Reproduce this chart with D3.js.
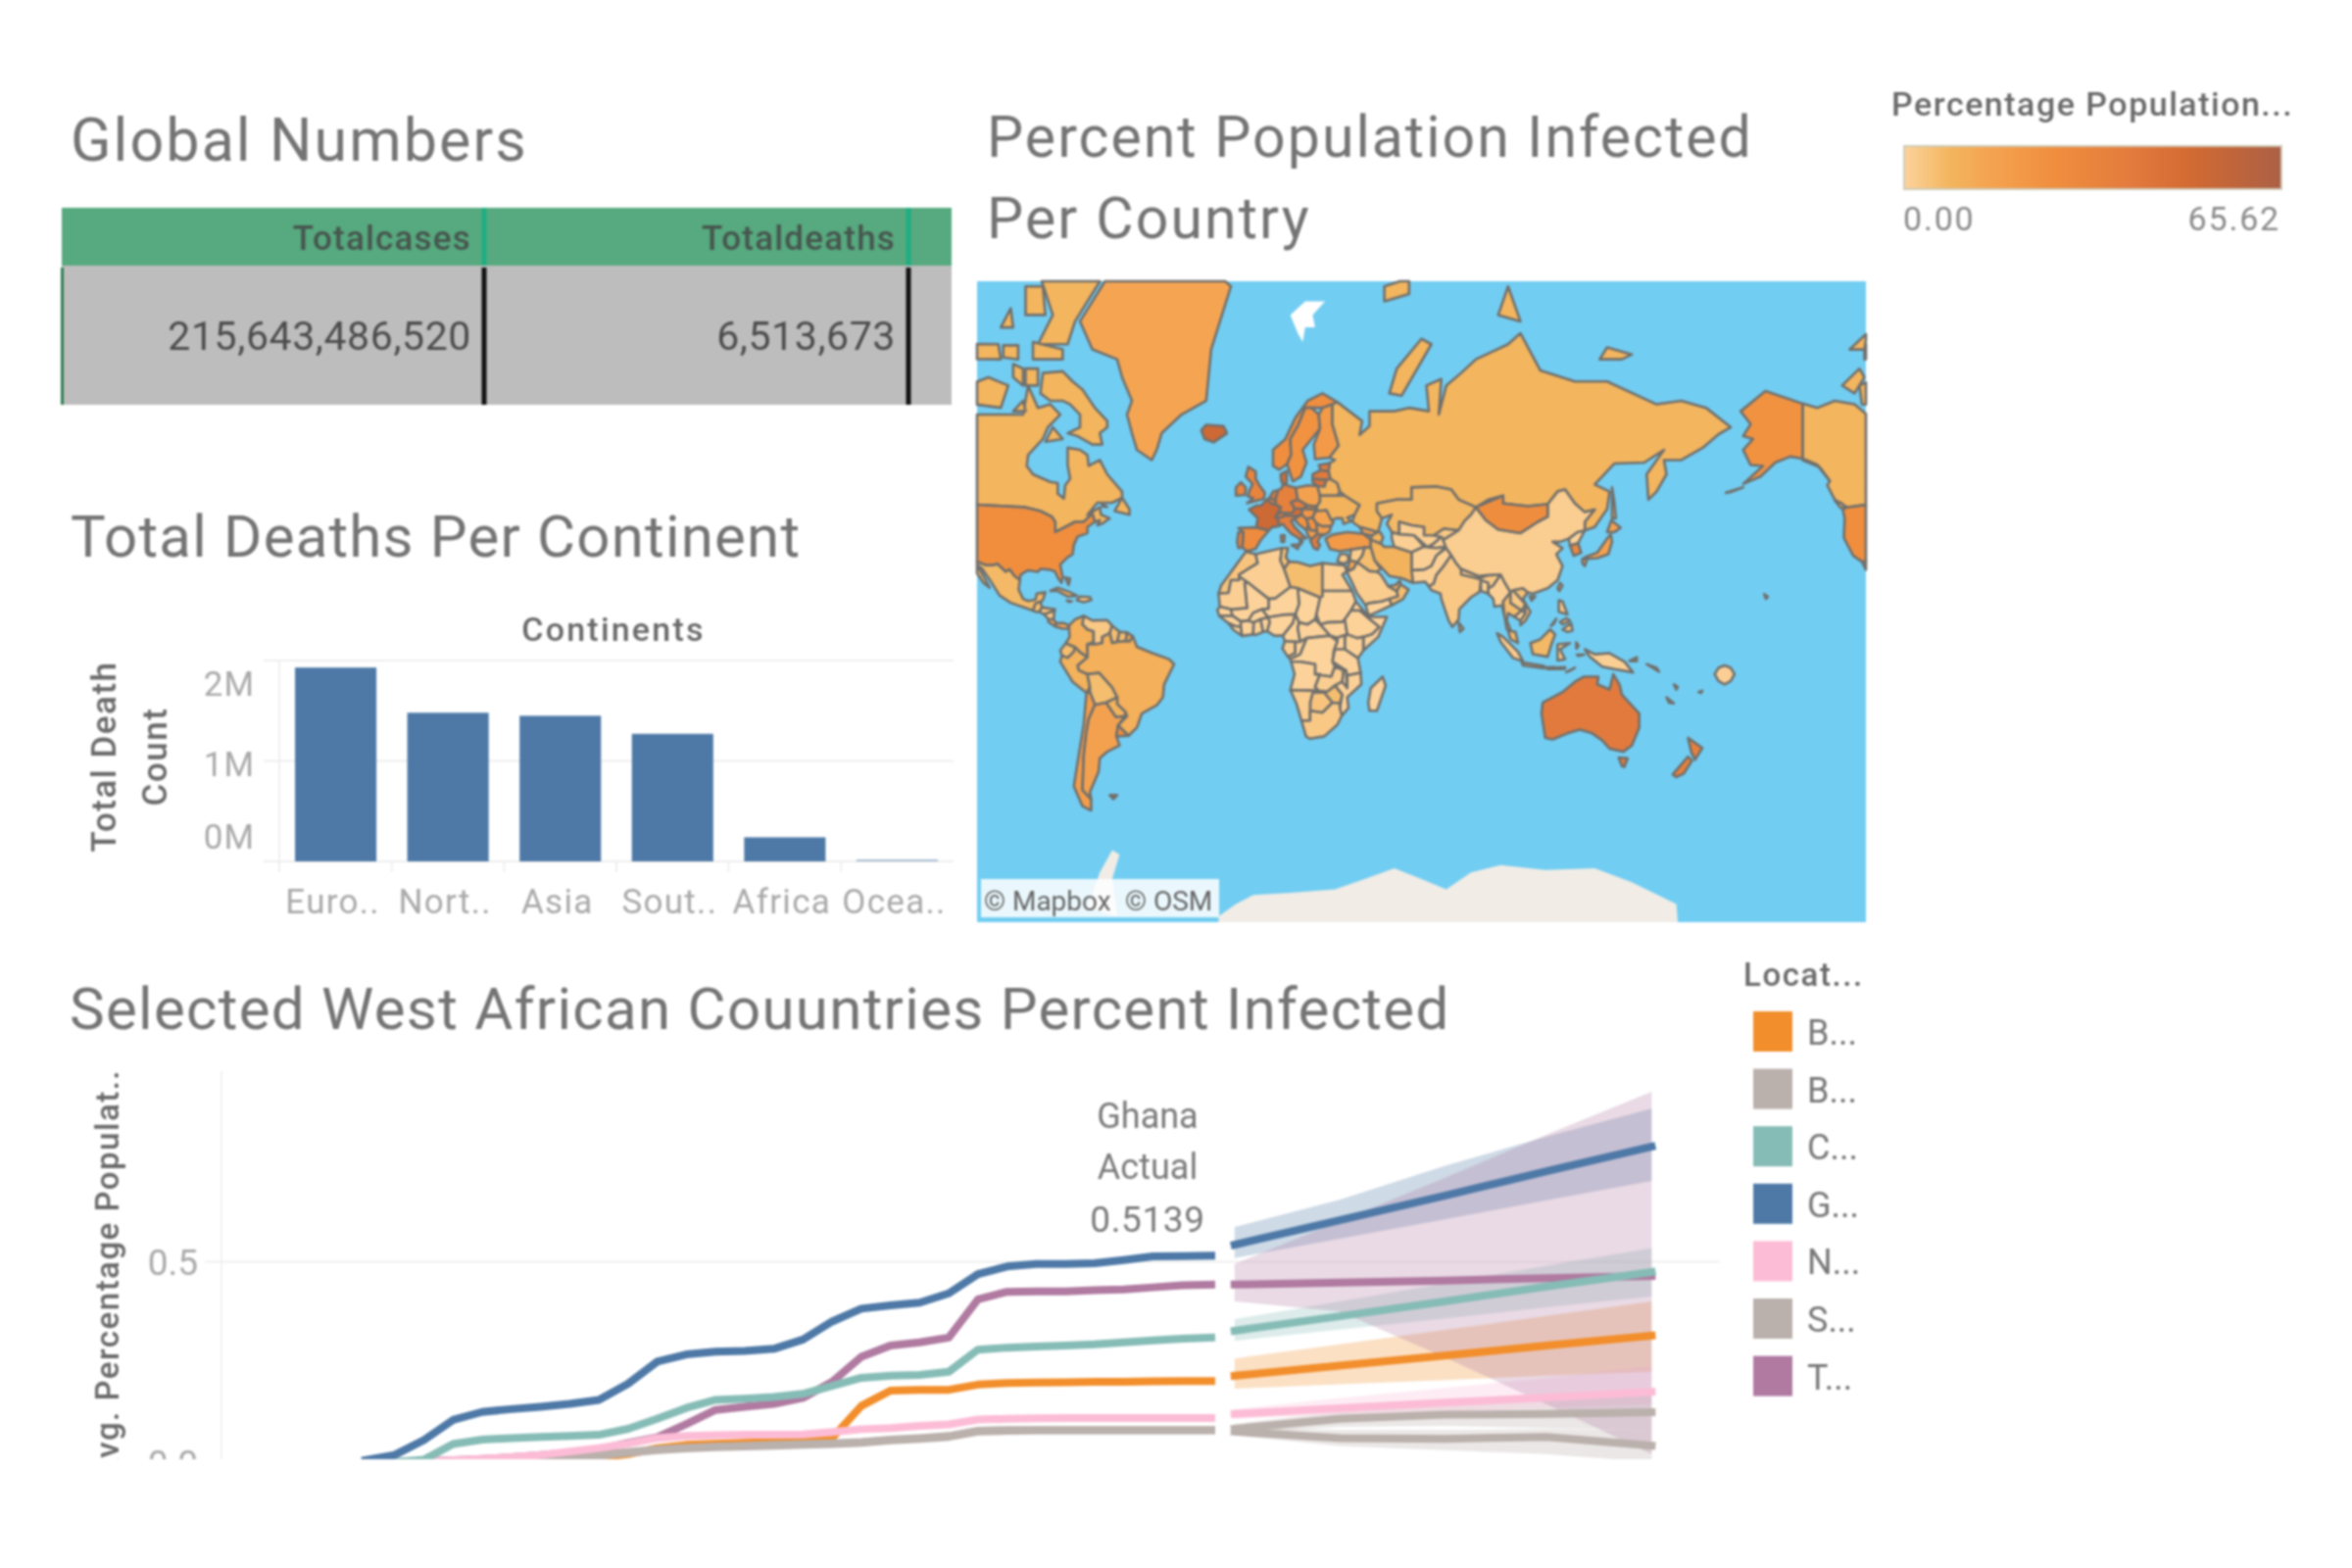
<!DOCTYPE html>
<html><head><meta charset="utf-8">
<script src="https://cdn.jsdelivr.net/npm/d3@7"></script>
<style>
html,body{margin:0;padding:0;background:#fff}
svg{display:block;filter:blur(1.2px)}
text{font-family:Roboto,sans-serif}
</style></head><body>
<svg id="c" width="2400" height="1600"></svg>
<script>
// ---------- Global numbers ----------
const tableHeaders = ["Totalcases","Totaldeaths"];
const tableValues = ["215,643,486,520","6,513,673"];

// ---------- Bars ----------
const continents = ["Euro..","Nort..","Asia","Sout..","Africa","Ocea.."];
const deathsMillions = [1.93,1.48,1.45,1.27,0.24,0.02];
const barTicks = [0,1,2];

// ---------- Lines ----------
const locationLabels = ["B...","B...","C...","G...","N...","S...","T..."];
const locationColors = ["#f28e2b","#bab0ac","#86bcb6","#4e79a7","#fcbcd6","#bab0ac","#b07aa1"];
const actualMonths = d3.range(30);
const forecastMonths = [29.8,33.4,37,40.5,44.1];
const actualBenin = [0,0,0,.002,.003,.004,.005,.007,.012,.02,.035,.043,.046,.048,.05,.052,.06,.14,.178,.18,.18,.193,.197,.198,.199,.2,.2,.201,.202,.202];
const actualBurkina = [0,0,.001,.002,.003,.004,.007,.011,.016,.023,.03,.034,.037,.039,.041,.043,.045,.048,.054,.058,.063,.076,.078,.079,.079,.079,.079,.079,.079,.079];
const actualCote = [0,0,.006,.045,.056,.06,.063,.065,.068,.083,.108,.135,.155,.158,.162,.17,.19,.21,.215,.217,.225,.28,.285,.288,.29,.293,.298,.303,.307,.31];
const actualGhana = [.005,.018,.055,.105,.125,.132,.138,.145,.155,.195,.25,.268,.275,.277,.282,.305,.35,.382,.39,.397,.42,.468,.487,.493,.493,.495,.503,.512,.513,.5139];
const actualNiger = [0,0,.002,.005,.008,.012,.018,.026,.035,.046,.06,.065,.067,.068,.068,.069,.075,.082,.085,.09,.094,.106,.108,.109,.11,.11,.11,.11,.11,.11];
const actualSenegal = [0,0,.001,.002,.003,.005,.008,.012,.018,.025,.032,.036,.039,.041,.043,.045,.047,.05,.056,.06,.065,.078,.08,.08,.08,.08,.08,.08,.08,.08];
const actualTogo = [0,0,.003,.005,.008,.012,.018,.024,.032,.048,.062,.095,.13,.138,.145,.16,.2,.262,.29,.298,.31,.405,.424,.425,.425,.428,.43,.435,.44,.442];
const forecastBenin = [.215,.24,.265,.29,.315];
const forecastBurkina = [.083,.108,.118,.12,.124];
const forecastCote = [.327,.363,.4,.437,.473];
const forecastGhana = [.541,.602,.663,.724,.785];
const forecastNiger = [.12,.134,.148,.161,.175];
const forecastSenegal = [.076,.06,.058,.063,.041];
const forecastTogo = [.442,.447,.452,.458,.463];
const upperBenin = [.258,.293,.329,.364,.4], lowerBenin = [.183,.194,.204,.215,.225];
const upperBurkina = [.095,.125,.14,.155,.17], lowerBurkina = [.07,.088,.09,.085,.08];
const upperCote = [.356,.4,.445,.489,.533], lowerCote = [.302,.33,.357,.385,.412];
const upperGhana = [.585,.653,.737,.81,.88], lowerGhana = [.508,.556,.604,.652,.7];
const upperNiger = [.132,.16,.185,.21,.24], lowerNiger = [.108,.118,.125,.135,.145];
const upperSenegal = [.085,.08,.08,.082,.08], lowerSenegal = [.066,.04,.03,.02,0];
const upperTogo = [.493,.6,.707,.815,.922], lowerTogo = [.4,.375,.261,.144,.02];
const actualSeries = [actualBenin,actualBurkina,actualCote,actualGhana,actualNiger,actualSenegal,actualTogo];
const forecastSeries = [forecastBenin,forecastBurkina,forecastCote,forecastGhana,forecastNiger,forecastSenegal,forecastTogo];
const upperSeries = [upperBenin,upperBurkina,upperCote,upperGhana,upperNiger,upperSenegal,upperTogo];
const lowerSeries = [lowerBenin,lowerBurkina,lowerCote,lowerGhana,lowerNiger,lowerSenegal,lowerTogo];

// ---------- Map: [percent infected, outline in lon/lat] ----------
const colorStops = [0,8,14,26,40,50,65.62];
const colorRange = ["#fcd39c","#f3b55e","#f5a552","#f08e3e","#e27a3d","#d26a33","#ab6045"];
const antarctica = [[-17,-73],[-10,-71.5],[-3,-70.3],[12,-70],[30,-69.5],[42,-68],[54,-66.3],[65,-68],[75,-69.5],[85,-67],[97,-65.8],[115,-66.6],[135,-66.3],[150,-68.5],[168,-71.5],[170,-78],[170,-85],[100,-85],[40,-85],[-17,-85]];
const peninsula = [[-70,-72],[-65,-67],[-60,-63.2],[-57,-64],[-60,-68],[-58,-73]];
const svalbard = [[12,79],[15,77.5],[17,76.7],[18,78],[22,78],[21,79],[26,80],[18,80]];
const countries = [
[8,[[-141,69.6],[-135,69],[-128,70],[-120,69.5],[-115,68],[-108,68],[-100,68],[-96,68],[-94,72],[-90,69],[-85,69.5],[-81,68],[-86,66],[-88,64],[-94,61],[-94.5,58.8],[-92,57],[-85,55.3],[-82,55],[-82,52.5],[-79.5,51.3],[-79,54.5],[-77,56],[-78,59],[-78,62.4],[-73,62],[-70,61],[-69.5,58.8],[-65,60],[-62,57],[-56,53],[-56,51.5],[-60,50.2],[-66,50.2],[-70,47],[-65,49],[-64.5,47],[-61,46],[-64,44.5],[-66,44],[-65,45.5],[-67,45],[-68,47.3],[-70,46],[-71.5,45],[-75,45],[-79,43.5],[-83,42],[-83,45],[-84.5,46.5],[-89,48],[-95,49],[-123,49],[-128,51],[-131,54.5],[-130,55.5],[-135,59],[-141,60.3]]],
[8,[[-62,66],[-65,65],[-64,63],[-68,63],[-72,64],[-74,64.5],[-78,65],[-73,66],[-73,68],[-77,69.5],[-80,70],[-85,70],[-89,71],[-88,73.5],[-80,73.7],[-76,72.5],[-72,71.5],[-67,69],[-62,67]]],
[8,[[-117,69.5],[-105,69],[-102,72],[-110,73],[-118,72]]],
[8,[[-90,76.5],[-78,76.5],[-75,78.5],[-62,82],[-70,83],[-90,82],[-84,79]]],
[8,[[-125,72],[-118,74],[-116,73],[-120,71]]],
[8,[[-92,75],[-80,75],[-80,76],[-92,76.7]]],
[8,[[-116,75],[-105,75],[-106,76.5],[-116,76.5]]],
[8,[[-100,73],[-96,72],[-96,74],[-100,74.5]]],
[8,[[-95,72],[-90,72],[-90,74],[-95,74]]],
[8,[[-95,79],[-87,79],[-88,81],[-95,81]]],
[8,[[-100,68.5],[-95,68.5],[-96,70]]],
[8,[[-122,76],[-116,76],[-115,77.5]]],
[8,[[-105,78],[-100,78],[-101,79.5]]],
[8,[[-104,75.2],[-98,75],[-98,76.4],[-104,76.4]]],
[8,[[-87,63.5],[-80,64],[-84,66]]],
[8,[[-59,48],[-53,47],[-53,48.5],[-56,51.5]]],
[8,[[-128,50.8],[-125,50],[-123.5,48.5],[-125.5,48.8]]],
[8,[[-64,49.9],[-62,49.1],[-64,49.2]]],
[26,[[-124.7,48.4],[-123,49],[-95,49],[-89,48],[-84.5,46.5],[-83,45],[-83,42],[-79,43.5],[-75,45],[-71.5,45],[-70,46],[-68,47.3],[-67,45],[-70,43.5],[-70,41.7],[-74,40.6],[-75.5,38],[-76,35],[-78,34],[-81,31.5],[-80,27],[-80.5,25],[-82,27],[-83,29],[-85,29.7],[-89,30],[-90,29],[-94,29.5],[-97,28],[-97.3,26],[-99.5,27.5],[-101.5,29.8],[-103,29],[-106.5,31.8],[-108,31.3],[-111,31.3],[-114.8,32.5],[-117,32.5],[-120.5,34.5],[-122.5,37.5],[-124.3,40.3],[-124,46]]],
[24,[[-141,69.6],[-156,71.3],[-166,68.5],[-162,66.5],[-165,64.5],[-161,64],[-165,62],[-162,59],[-157,58.8],[-165,54.8],[-158,56.5],[-152,59.5],[-146,60.7],[-141,60.3],[-135,59],[-130,55.5],[-134,58.5],[-141,60]]],
[26,[[-156.5,20.8],[-155,19.8],[-155.8,19]]],
[26,[[-172,52.7],[-165,54],[-170,52.9]]],
[7,[[-117,32.5],[-114.8,32.5],[-111,31.3],[-108,31.3],[-106.5,31.8],[-103,29],[-101.5,29.8],[-99.5,27.5],[-97.3,26],[-97.8,22.5],[-96,19],[-94,18.2],[-91,18.7],[-90.5,21],[-87,21.5],[-88,18.5],[-89,17.9],[-91,17.2],[-92,14.5],[-96,15.8],[-101,17.5],[-105.5,20.3],[-109,25.5],[-112.5,30],[-114.7,31.5],[-112,27.5],[-109.5,23.2],[-112,25],[-115,29]]],
[6,[[-92,14.5],[-91,17.2],[-89,17.9],[-88.3,15.7],[-89.5,14],[-90.5,13.9]]],
[4,[[-88.3,15.7],[-83.2,15],[-84.5,14],[-87.5,13],[-89.5,14]]],
[3,[[-87.5,13],[-84.5,14],[-83.2,15],[-83.7,11],[-85.7,11]]],
[14,[[-85.7,11],[-83.7,11],[-82.6,9.5],[-83,8.2],[-85.8,10]]],
[14,[[-83,8.2],[-82.6,9.5],[-79.5,9.5],[-77.4,8.6],[-78,7.3],[-80,7.3]]],
[9,[[-85,22],[-82,23.2],[-77,21.5],[-74.2,20.2],[-78,19.9],[-82,22]]],
[4,[[-74.3,18.5],[-73,19.9],[-69,19.7],[-68.4,18.6],[-71.5,17.7]]],
[4,[[-78.3,18.4],[-76.3,18.1],[-77.5,17.8]]],
[10,[[-79,27],[-77,26.5],[-77.6,24.2]]],
[10,[[-77.4,8.6],[-75,11],[-71.5,12.4],[-72,9],[-70,7],[-67.5,6.2],[-67.5,2],[-70,1],[-70,-4.2],[-73,-2.2],[-75,-0.2],[-78.8,1.4],[-77.2,4],[-77.4,7]]],
[3,[[-71.5,12.4],[-68,10.6],[-62,10.7],[-60,8.5],[-61,5.5],[-64,4],[-64,1.5],[-67,1],[-67.5,2],[-67.5,6.2],[-70,7],[-72,9]]],
[6,[[-60,8.5],[-57,6],[-58,2],[-60,1.5],[-61,5.5]]],
[6,[[-57,6],[-54,5.8],[-54.5,2.3],[-58,2]]],
[14,[[-54,5.8],[-51.6,4.2],[-52.9,2.2],[-54.5,2.3]]],
[10,[[-51.6,4.2],[-50,0],[-44,-2.5],[-37,-5],[-35,-7],[-39,-15],[-39.5,-20],[-42,-23],[-48,-26],[-50,-31],[-53.4,-33.8],[-57.6,-30.2],[-54,-27],[-54.6,-25.5],[-58,-22.5],[-58,-20],[-60,-16.3],[-65.3,-10.5],[-70,-11],[-73.5,-9.5],[-74,-7.5],[-70,-4.2],[-70,1],[-67,1],[-64,1.5],[-64,4],[-61,5.5],[-60,1.5],[-58,2],[-54.5,2.3],[-52.9,2.2]]],
[6,[[-78.8,1.4],[-75,-0.2],[-75.5,-2],[-78,-4.5],[-80.3,-3.5],[-81,-1.5]]],
[9,[[-80.3,-3.5],[-78,-4.5],[-75.5,-2],[-75,-0.2],[-73,-2.2],[-70,-4.2],[-74,-7.5],[-73.5,-9.5],[-70,-11],[-69,-16],[-70.4,-18.3],[-76,-14],[-81,-6]]],
[6,[[-70,-11],[-65.3,-10.5],[-60,-16.3],[-58,-20],[-62.5,-22],[-67,-22.8],[-69,-18],[-69,-16]]],
[9,[[-58,-20],[-58,-22.5],[-54.6,-25.5],[-54.8,-27],[-58.5,-27.3],[-62.5,-22]]],
[18,[[-70.4,-18.3],[-69,-18],[-67,-22.8],[-69.5,-28],[-70.5,-33],[-71.5,-40],[-72,-50],[-68.5,-52.3],[-68.5,-55],[-72,-54],[-75.5,-49],[-73.5,-40],[-71.5,-30]]],
[16,[[-67,-22.8],[-62.5,-22],[-58.5,-27.3],[-54.8,-27],[-57.6,-30.2],[-58.3,-34],[-57,-37],[-62,-39],[-65,-41],[-65.5,-45],[-69,-50.5],[-68.5,-52.3],[-72,-50],[-71.5,-40],[-70.5,-33],[-69.5,-28]]],
[26,[[-57.6,-30.2],[-53.4,-33.8],[-58.3,-34]]],
[30,[[-61,-51.3],[-58,-51.3],[-59.5,-52.3]]],
[14,[[-73,78.5],[-60,82],[-33,83.5],[-12,81],[-20,76],[-22,70],[-32,68],[-40,65],[-42,62],[-44,60],[-50,62],[-52,65],[-54,68],[-52,70],[-56,73],[-58,75],[-68,76]]],
[52,[[-24,65.5],[-22,66.4],[-15,66.2],[-13.6,65],[-19,63.4],[-22.7,64]]],
[33,[[-5.5,50.1],[1.3,51.2],[1.7,52.7],[-0.5,54.5],[-2,56],[-2,57.6],[-5,58.6],[-6,56.5],[-3.2,54.8],[-4.5,53.3],[-5.2,51.8],[-3,51.4]]],
[32,[[-10,52],[-6.2,52.2],[-6,54],[-8,55.2],[-10,54]]],
[52,[[-1.8,43.4],[3.2,42.4],[4.5,43.4],[7.5,43.8],[7,46],[6,46.3],[8.2,49],[6.2,49.7],[4.5,50],[2.5,51],[0.2,49.5],[-1.5,49.5],[-4.7,48.4],[-1.2,46]]],
[28,[[-9,43.2],[-1.8,43.4],[3.2,42.4],[0,39.5],[-2,36.8],[-5.5,36],[-7.4,37.2],[-7,42]]],
[36,[[-9,42],[-7,42],[-7.4,37.2],[-9,37],[-9.5,39]]],
[38,[[2.5,51],[4.5,50],[6.2,49.7],[6,51],[3.5,51.4]]],
[40,[[3.5,51.4],[6,51],[7,53.3],[5,53]]],
[36,[[6,51],[6.2,49.7],[8.2,49],[7.6,47.6],[9.5,47.5],[13,47.6],[13.8,48.7],[12.2,50.3],[15,51],[14.2,53.9],[9,54.8],[8.6,53.9],[7,53.3]]],
[42,[[6,46.3],[7,46],[10.4,46.8],[9.5,47.5],[7.6,47.6]]],
[48,[[9.5,47.5],[10.4,46.8],[13.7,46.5],[16.5,47],[17,48.6],[13.8,48.7],[13,47.6]]],
[38,[[7,46],[7.5,43.8],[8.9,44.4],[10.5,43],[12.3,41.6],[15.7,40],[16,38],[17,39.2],[16,40],[18.4,40.1],[16,41.8],[13.7,43.5],[12.3,45.3],[13.7,45.8],[13.7,46.5],[10.4,46.8]]],
[38,[[12.5,38],[15.5,38.2],[15,36.7]]],
[38,[[8.2,41],[9.7,41],[9.5,39],[8.4,39]]],
[48,[[8.1,57],[10.6,57.7],[10.5,55],[9,54.8],[8.3,55.5]]],
[26,[[5,58.8],[7.5,58],[10.7,59.2],[12.3,61],[12,64],[15,66.2],[18,69],[20.5,69],[25,69],[29,69.5],[31,69.8],[25,71],[19,70],[14,67.5],[10,64],[5,62]]],
[24,[[10.7,59.2],[13,55.4],[16.3,56.5],[18.5,59.5],[17,62],[21.5,64.5],[24,65.8],[23.5,68],[20.5,69],[18,69],[15,66.2],[12,64],[12.3,61]]],
[20,[[24,65.8],[21.5,63],[22,60.2],[27.8,60.5],[31.5,62.8],[29,66.5],[29,69.5],[25,69],[23.5,68]]],
[40,[[23.5,59],[28,59.4],[27.5,57.6],[24.3,57.9]]],
[40,[[21,57],[24.3,57.9],[27.5,57.6],[28.2,56],[26.6,55.7],[21,56]]],
[44,[[21,56],[26.6,55.7],[25.8,54.2],[23,54.3],[21,55.2]]],
[16,[[14.2,53.9],[19,54.5],[23,54.3],[24,52],[24,50.5],[22.7,49.2],[19,49.5],[15,51]]],
[9,[[23,54.3],[25.8,54.2],[26.6,55.7],[28.2,56],[31,55],[32,53],[31,52],[24,52]]],
[9,[[24,52],[31,52],[34,52],[40,49.6],[38,47],[35,46.2],[36.5,45.2],[33.5,44.4],[33,46],[30.5,46],[28.5,45.5],[26.6,48.2],[22.9,48],[22.7,49.2],[24,50.5]]],
[38,[[12.2,50.3],[13.8,48.7],[17,48.6],[18.8,49.5],[15,51]]],
[32,[[17,48.6],[22.3,48.4],[22.7,49.2],[19,49.5]]],
[22,[[16.5,47],[17,48.6],[22.3,48.4],[21,46.2],[18.5,45.8]]],
[15,[[21,46.2],[22.3,48],[26.6,48.2],[28.5,45.5],[29.5,45],[28.5,43.8],[25,43.7],[22.5,44.5]]],
[18,[[22.5,44.5],[25,43.7],[28.5,43.8],[27.8,42],[26,41.3],[22.8,41.3]]],
[24,[[18.5,45.8],[21,46.2],[22.5,44.5],[22.8,42.3],[20,42.6],[19.2,44]]],
[24,[[13.7,45.8],[16.5,47],[18.5,45.8],[19.2,44],[18.5,42.5],[15,44.5]]],
[18,[[18.5,42.5],[19.2,44],[20,42.6],[22.8,42.3],[22.8,41.3],[20.8,40],[19.4,40.5]]],
[38,[[20,39.5],[20.8,40],[22.8,41.3],[26,41.3],[24,40.5],[23,39],[24,38],[23,36.5],[21.5,37]]],
[20,[[26.2,40],[29,41.2],[35,42],[41.5,41.5],[44.5,39.7],[44.5,37.2],[42,37.2],[36.5,36.5],[32,36],[28,36.7]]],
[2,[[31,32.5],[32,35],[35,35],[35.6,33],[34,31.8]]],
[8,[[31,69.8],[41,67],[40,64.7],[44,66.2],[44,68.5],[54,68.5],[60,69],[68,68.5],[67,72],[73,72.8],[72,68],[75,72],[81,73.5],[87,75],[100,76.5],[105,77.5],[113,73.8],[127,72.5],[140,72.5],[160,69.5],[170,70],[180,69],[190,66],[185,64.8],[179,62.5],[170,60],[163,60],[164,57],[160,53],[156.7,51],[156,57],[163,62],[155,59.5],[143,59.3],[135,54.7],[141,53],[140,48.5],[135,43.5],[131,42.5],[131,45],[135,48.4],[131,47.7],[127,50],[123,53.5],[120,53],[116,49.8],[108,49.3],[98,50],[98,52],[92,51],[87,49],[80,51],[77,53.5],[71,54.2],[61,54],[61,51],[55,51],[47,50],[47,48],[49,46],[47.5,42],[40,43.5],[37,45],[38,47],[40,49.6],[34,52],[32,53],[31,55],[28.2,56],[27.5,57.6],[28,59.4],[30,60],[27.8,60.5],[31.5,62.8],[29,66.5],[29,69.5]]],
[8,[[142,54],[143,50],[143.5,46],[142,46],[142,50]]],
[8,[[52,71],[57,70.7],[69,76.5],[65,77],[55,74]]],
[8,[[96,79],[105,78.5],[100,81]]],
[8,[[50,80],[60,80.5],[60,81.5],[50,81]]],
[8,[[137,75],[146,75],[150,75.5],[140,76.2]]],
[7,[[47,50],[55,51],[61,51],[61,54],[71,54.2],[77,53.5],[80,51],[87,49],[85,47],[82.5,45.3],[80,42.5],[74,43],[70,41],[66,41],[66,43.5],[61,44],[56,45],[56,41.3],[53,42],[51,44.5],[53,47],[49,46],[47,48]]],
[1,[[56,45],[61,44],[66,43.5],[66,41],[70,41],[73,40.5],[70,38.5],[67.5,37.3],[62,41],[56,41.3]]],
[1,[[53,42],[56,41.3],[62,41],[66,37.5],[61,35.6],[54,37.4],[53,40]]],
[3,[[70,41],[74,43],[80,42.5],[74,39.7],[73,40.5]]],
[1,[[67.5,37.3],[70,38.5],[73,40.5],[74,39.7],[75,37.5],[71,37]]],
[1,[[61,35.6],[66,37.5],[67.5,37.3],[71,37],[75,37.5],[71,34.5],[69,31],[66,29.7],[61,29.5]]],
[1,[[61,29.5],[66,29.7],[69,31],[71,34.5],[75,37],[77,34.7],[74,31],[71,27.8],[70,24.8],[68,23.7],[66.5,25.4],[61.5,25]]],
[9,[[44.5,39.7],[48.5,38.5],[50,37.4],[54,37.4],[61,35.6],[61,29.5],[61.5,25],[57,26.7],[52,27.5],[49,30.3],[46,33],[44.5,37.2]]],
[14,[[41.5,41.5],[40,43.5],[47.5,42],[45,41]]],
[8,[[45,41],[47.5,42],[48.5,41.8],[49.5,40.3],[48.5,38.5],[44.5,39.7]]],
[6,[[42,37.2],[44.5,37.2],[46,33],[48.5,30],[47,29],[44,29.2],[39,32.3],[41,34.5]]],
[2,[[36.5,36.5],[42,37.2],[41,34.5],[39,32.3],[36,33]]],
[14,[[35,29.5],[36,33],[39,32.3],[37.5,30]]],
[2,[[34.8,29],[37.5,30],[39,32.3],[44,29.2],[47,29],[48.5,28],[50,26],[51.5,23.8],[55,22],[55.5,20],[52,19],[49,18],[43.5,17.3],[42.5,16.5],[39,21],[37,25]]],
[0.1,[[43.5,12.7],[42.5,16.5],[43.5,17.3],[49,18],[52,19],[53,16.6],[45,13]]],
[6,[[52,19],[55.5,20],[55,22],[56.5,24.5],[59.8,22.5],[57.5,18.9],[53,16.6]]],
[9,[[51.5,23.8],[54.5,24.2],[56.3,25.8],[56.5,24.5],[55,22]]],
[3,[[68,23.7],[70,24.8],[71,27.8],[74,31],[77,34.7],[79,32],[81,30],[88,26.5],[92,27.8],[97,28],[94,24],[92,23],[89,26],[88.5,21.7],[85,19.6],[80.3,15],[80,11],[77.5,8],[76,10.5],[73,19],[72.7,21],[69,22.3]]],
[3,[[81,30],[88,27.5],[88,26.5],[81,28]]],
[1,[[89,26],[92,25],[92,21],[89,22]]],
[3,[[80,9.7],[82,7.3],[80.5,6]]],
[1,[[92,21],[92,23],[94,24],[97,28],[98.7,25],[101,21.5],[98,18],[98.6,12],[97.5,16.5],[94.5,16],[94,19]]],
[6,[[98,18],[101,21.5],[101,17.5],[105.5,14.5],[102.5,12],[100,13.5],[99.5,10.5],[101,6.8],[99.5,7],[98.6,12]]],
[3,[[101,21.5],[102,22.3],[107,17],[105.5,14.5],[101,17.5]]],
[5,[[102,22.3],[106,23],[108,21.5],[106,19],[109,14],[107,10.5],[105,8.7],[105,10.5],[107,13.5],[107,17]]],
[1,[[102.5,12],[105.5,14.5],[107,13.5],[105,10.5]]],
[7,[[100,6.5],[103,6],[104,1.5],[101,3]]],
[2,[[95.5,5.5],[98,4],[104,-2],[106,-5.8],[102,-4.5],[97,2]]],
[2,[[105.5,-6.2],[114.5,-7.7],[114.5,-8.7],[106,-7.5]]],
[2,[[115,-8.3],[119,-8.2],[119,-9],[116,-9]]],
[2,[[119.5,-8.4],[123,-8.2],[123,-8.9],[120,-9]]],
[2,[[123.5,-10.2],[127,-8.4],[125,-9.6]]],
[2,[[127.5,1.8],[128.5,0.5],[127.6,-0.8]]],
[2,[[127.8,-3.2],[130.8,-3.2],[128.5,-3.7]]],
[7,[[109,1.5],[113,3],[117,7],[119,5],[117.5,1],[116,-4],[110,-3]]],
[2,[[120,1],[125,1.5],[121,-1],[123,-5],[120,-5.5]]],
[1,[[131,-1],[135,-3],[141,-2.6],[147,-6],[150.5,-10.3],[143,-9],[138,-8],[133,-4]]],
[1,[[149,-5.7],[152,-4.2],[152,-5.8]]],
[3,[[120.5,18.5],[122,18],[124,13],[120.5,14]]],
[3,[[122,7],[125.5,9.5],[126,6.5],[124,6]]],
[3,[[121,10],[123.5,11.5],[125,10.5],[122,9]]],
[3,[[117.3,8.4],[119.5,11.3],[118.5,9.3]]],
[3,[[121,25],[122,24],[120.7,22],[120,23]]],
[16,[[130.9,34],[136,35.5],[140,40],[141.5,41.3],[142,39],[140.5,35],[136,33.7],[132,33.5]]],
[16,[[140,42],[141.7,45.4],[145.5,43.3],[143,42]]],
[16,[[130,33.5],[131.8,33],[131,31],[130,32]]],
[0.1,[[124.5,40],[128,42],[131,42.5],[128.3,38.6],[125,37.8]]],
[30,[[125,37.8],[128.3,38.6],[129.5,35.5],[126.5,34.5]]],
[1.5,[[73.7,39.5],[74,39.7],[80,42.5],[82.5,45.3],[85,47],[87,49],[91,45.5],[96,42.8],[105,41.7],[112,45],[116,46.5],[116,49.8],[120,53],[123,53.5],[127,50],[131,47.7],[135,48.4],[131,45],[131,42.5],[128,42],[124.5,40],[121,39],[118,39],[122,37],[119.5,35],[122,31],[120,26],[116,23],[110,21],[108,21.5],[106,23],[102,22.3],[101,21.5],[98.7,25],[97,28],[92,27.8],[88,27.5],[81,30],[79,32],[77,34.7],[75,37]]],
[1.5,[[108.7,20],[111,20],[109.5,18.3]]],
[27,[[87,49],[98,52],[98,50],[108,49.3],[116,49.8],[116,46.5],[112,45],[105,41.7],[96,42.8],[91,45.5]]],
[4,[[-17,21],[-16,24],[-13,27.7],[-9.8,31.5],[-6,35.8],[-2,35],[-1.2,32],[-8.7,28],[-8.7,26],[-12,26],[-13,21.3]]],
[1,[[-2,35],[8.6,37],[8,33],[9.5,30],[12,23.5],[6,19.2],[3.2,19],[-5,25],[-8.7,27.3],[-8.7,28],[-1.2,32]]],
[5,[[8.6,37],[11,37],[10.2,34],[11.5,32.5],[9.5,30],[8,33]]],
[6,[[9.5,30],[11.5,32.5],[15,32.3],[20,31],[25,32],[25,20],[24,19.5],[15,23],[12,23.5]]],
[1,[[25,32],[34,31.2],[34.8,29],[33,28],[37,22],[25,22]]],
[0.2,[[25,22],[37,22],[38.5,18],[36.5,14.5],[34,11],[33,10],[27,9.8],[24,9],[22.5,13],[24,19.5],[25,20]]],
[0.2,[[24,9],[27,9.8],[33,10],[34,11],[35,5],[31,3.7],[28,4.5]]],
[0.3,[[36.5,14.5],[38.5,18],[43,12.7],[40,14.5]]],
[0.4,[[34,11],[36.5,14.5],[40,14.5],[43,12],[48,8],[45,5],[41.5,4],[39,3.5],[35,5]]],
[0.2,[[43,12],[51,12],[47.5,4],[41.5,-1.5],[41.5,4],[45,5],[48,8]]],
[0.6,[[35,5],[39,3.5],[41.5,4],[41.5,-1.5],[39.3,-4.6],[34,-1],[34,4]]],
[0.4,[[31,3.7],[35,5],[34,4],[34,-1],[29.6,-1.4],[31,2.3]]],
[0.2,[[30,-1],[34,-1],[39.3,-4.6],[40.4,-10.4],[35,-11.5],[34.5,-9.5],[29,-6]]],
[0.1,[[15,23],[24,19.5],[22.5,13],[22,11],[19,9],[15.5,9.8],[14,13],[15.5,17]]],
[0.1,[[12,23.5],[15,23],[15.5,17],[14,13],[9,12.8],[4,12],[3,11.8],[0.5,15],[3.2,15.3],[3.2,19],[6,19.2]]],
[0.2,[[-12,15],[-5.5,15.5],[-6.5,25],[-5,25],[3.2,19],[3.2,15.3],[0.5,15],[-3,13.6],[-5,10.5],[-8,10.2],[-11.5,12.5]]],
[1,[[-17,21],[-13,21.3],[-12,26],[-8.7,26],[-8.7,27.3],[-5,25],[-6.5,25],[-5.5,15.5],[-12,15],[-16.5,16]]],
[0.5,[[-16.5,16],[-12,15],[-11.5,12.5],[-16.7,12.4],[-17.5,14.7]]],
[0.3,[[-15,11],[-16.7,12.4],[-11.5,12.5],[-8,10.2],[-8,8],[-10.5,8.4],[-13,9.5]]],
[0.2,[[-13,9.5],[-10.5,8.4],[-8,8],[-7.5,4.4],[-11,6.8]]],
[0.3,[[-8,10.2],[-5,10.5],[-2.8,9.8],[-3,5],[-7.5,4.4],[-8,8]]],
[0.1,[[-5,10.5],[-3,13.6],[0.5,15],[3,11.8],[0,11],[-2.8,9.8]]],
[0.5,[[-2.8,9.8],[0,11],[1,6],[-2,4.8],[-3,5]]],
[0.3,[[0,11],[3,11.8],[3.7,10],[2.7,6.3],[1,6]]],
[0.1,[[2.7,6.3],[3.7,10],[3,11.8],[4,12],[9,12.8],[14,13],[13,9.5],[9,4.5],[5.5,4.5]]],
[0.4,[[9,4.5],[13,9.5],[14,13],[15.5,9.8],[15,7.5],[16,2],[9.8,2.3]]],
[0.2,[[15,7.5],[15.5,9.8],[19,9],[22,11],[24,9],[28,4.5],[18.6,3.5],[16,2]]],
[1.5,[[9.8,2.3],[14,2],[14,-2.5],[11,-4],[8.8,-0.7]]],
[0.5,[[14,2],[16,2],[18.6,3.5],[16,-3],[12,-5],[11,-4],[14,-2.5]]],
[0.1,[[18.6,3.5],[28,4.5],[31,2.3],[29.6,-1.4],[29,-6],[30,-8],[28.5,-12],[22,-11],[22,-7],[16,-6],[12.3,-6],[12,-5],[16,-3]]],
[0.3,[[12.3,-6],[16,-6],[22,-7],[22,-11],[24,-11],[22,-16],[23.5,-17.5],[12,-17.2],[13.7,-11]]],
[1.5,[[22,-11],[28.5,-12],[30,-8],[33.5,-9.5],[33,-14],[30,-15.5],[27,-17.8],[23.5,-17.5],[22,-16],[24,-11]]],
[0.4,[[33.5,-9.5],[34.5,-9.5],[35,-16.5],[33,-14]]],
[0.7,[[35,-11.5],[40.4,-10.4],[40.7,-15],[35,-20],[35.5,-24],[32.8,-26.8],[32,-24],[33,-19],[30,-15.5],[33,-14],[35,-16.5]]],
[6,[[27,-17.8],[30,-15.5],[33,-19],[32,-22.3],[29,-22],[25.5,-18]]],
[4,[[20,-22],[21,-18.3],[25.5,-18],[29,-22],[25,-25.7],[20,-25]]],
[2,[[12,-17.2],[23.5,-17.5],[25.5,-18],[21,-18.3],[20,-22],[20,-28.5],[16.5,-28.6],[14.5,-22.5]]],
[3,[[16.5,-28.6],[20,-28.5],[20,-25],[25,-25.7],[29,-22],[32,-22.3],[32,-24],[32.8,-26.8],[31,-30],[25.7,-34],[20,-34.8],[18.3,-34]]],
[0.2,[[49.3,-12],[50.5,-15.5],[47,-25],[44,-25],[43.5,-22],[44.5,-16.5]]],
[40,[[114,-22],[113.5,-26],[115,-34.5],[118,-35],[124,-33],[129,-31.7],[134,-33],[138,-35.3],[141,-38],[146.5,-39],[150,-37],[153,-31],[153,-26],[146,-19],[145,-15],[142.5,-11],[141,-17],[136,-15],[136.5,-12],[130.5,-12],[127,-14],[122,-18]]],
[40,[[144.7,-40.8],[148.3,-41],[147,-43.6],[146,-43.4]]],
[36,[[172.7,-34.5],[178.5,-37.8],[175.5,-41.5],[174,-39]]],
[36,[[172.7,-40.5],[174.3,-41.8],[171,-45.5],[168,-46.5],[166.5,-45.8]]],
[8,[[164,-20],[167,-22.3],[165,-22]]],
[14,[[177,-18],[178.5,-17.5],[178,-18.3]]],
[4,[[156,-7],[161,-10],[160,-8.5]]],
[5,[[167,-15],[168,-17],[168.5,-16]]],
[1,[[183.5,-11],[185,-8.5],[187.5,-7.5],[190,-8.5],[191.5,-11],[190,-13.7],[187.5,-15],[185,-13.7]]]
];

const svg = d3.select("#c");
const gray = "#6a6a6a", tick = "#a9a9a9";
function label(x,y,s,size,o={}){
  return svg.append("text").attr("x",x).attr("y",y).text(s)
    .attr("font-size",size).attr("fill",o.fill||gray)
    .attr("font-weight",o.weight||400)
    .attr("text-anchor",o.anchor||"start")
    .attr("letter-spacing",o.spacing||0);
}

// titles
const titleOpts = {fill:"#747474"};
label(72,164,"Global Numbers",61,{...titleOpts,spacing:2.05});
label(72,568,"Total Deaths Per Continent",60,{...titleOpts,spacing:1.2});
label(1007,160,"Percent Population Infected",59,{...titleOpts,spacing:2});
label(1007,243,"Per Country",59,{...titleOpts,spacing:2.1});
label(71,1050,"Selected West African Couuntries Percent Infected",60,{...titleOpts,spacing:1.3});

// ---------- table ----------
const tx = d3.scaleOrdinal().domain(tableHeaders).range([494,927]);
svg.append("rect").attr("x",63).attr("y",212).attr("width",908).attr("height",59).attr("fill","#57a97f");
svg.append("rect").attr("x",63).attr("y",271).attr("width",908).attr("height",142).attr("fill","#bdbdbd");
svg.append("rect").attr("x",62).attr("y",273).attr("width",3).attr("height",140).attr("fill","#2f7d4f");
tableHeaders.forEach((h,i)=>{
  const x = tx(h);
  svg.append("rect").attr("x",x-2.5).attr("y",212).attr("width",5).attr("height",59).attr("fill","#1fae82");
  svg.append("rect").attr("x",x-2.5).attr("y",273).attr("width",5).attr("height",140).attr("fill","#111");
  label(x-13,255,h,35,{anchor:"end",weight:500,fill:"#46564e",spacing:1.2});
  label(x-13,357,tableValues[i],41,{anchor:"end",fill:"#4c4c4c",spacing:.6});
});

// ---------- bars ----------
const bx = d3.scaleBand().domain(continents).range([285,973]).paddingInner(.275).paddingOuter(.14);
const by = d3.scaleLinear().domain([0,2]).range([879,674]);
const barAxisY = d3.axisLeft(by).tickValues(barTicks).tickFormat(d=>d+"M").tickSize(0).tickPadding(25);
const gy = svg.append("g").attr("transform","translate(285,0)");
barTicks.forEach(t=>gy.append("line").attr("x1",-16).attr("x2",688).attr("y1",by(t)).attr("y2",by(t)).attr("stroke","#eeeeee").attr("stroke-width",2));
gy.append("line").attr("y1",674).attr("y2",890).attr("stroke","#efefef").attr("stroke-width",2);
gy.call(barAxisY).call(g=>g.select(".domain").remove());
gy.selectAll(".tick text").attr("font-size",35).attr("fill",tick).attr("font-family","Roboto").attr("letter-spacing",1)
  .attr("dy",d=>d===2?"1em":d===0?"-.4em":".42em");
svg.append("g").selectAll("rect").data(continents).join("rect")
  .attr("x",d=>bx(d)).attr("width",bx.bandwidth())
  .attr("y",(d,i)=>by(deathsMillions[i])).attr("height",(d,i)=>by(0)-by(deathsMillions[i]))
  .attr("fill",(d,i)=>i===5?"#a9bdd2":"#4e79a7");
const gx = svg.append("g").attr("transform","translate(0,879)").call(
  d3.axisBottom(bx).tickSize(0).tickPadding(28));
gx.select(".domain").remove();
gx.selectAll(".tick text").attr("font-size",35).attr("fill",tick).attr("font-family","Roboto").attr("letter-spacing",1.3).attr("dy",".71em").attr("dx",-3);
continents.forEach((c,i)=>{ if(i>0){ const x=bx(c)-bx.step()*bx.paddingInner()/2;
  gx.append("line").attr("x1",x).attr("x2",x).attr("y1",0).attr("y2",11).attr("stroke","#efefef").attr("stroke-width",2);}});
label(626,654,"Continents",34,{anchor:"middle",weight:500,spacing:2.2});
[["Total Death",109],["Count",161]].forEach(([s,x])=>{
  svg.append("text").attr("transform",`translate(${x},772) rotate(-90)`).attr("text-anchor","middle")
    .attr("dominant-baseline","middle").attr("font-size",35).attr("font-weight",500).attr("fill",gray)
    .attr("letter-spacing",1.5).text(s);
});

// ---------- map ----------
const mapBox = {x0:997,y0:287,x1:1904,y1:941};
const color = d3.scaleLinear().domain(colorStops).range(colorRange);
const projection = d3.geoMercator().rotate([-65,0]).scale(909/(2*Math.PI))
  .translate([(mapBox.x0+mapBox.x1)/2,660]).precision(0)
  .clipExtent([[mapBox.x0,mapBox.y0],[mapBox.x1,mapBox.y1]]);
const path = d3.geoPath(projection);
function polygon(ring){
  let r = ring.concat([ring[0]]);
  let f = {type:"Polygon",coordinates:[r]};
  if (d3.geoArea(f) > 2*Math.PI) f = {type:"Polygon",coordinates:[r.slice().reverse()]};
  return f;
}
svg.append("rect").attr("x",mapBox.x0).attr("y",mapBox.y0).attr("width",mapBox.x1-mapBox.x0).attr("height",mapBox.y1-mapBox.y0).attr("fill","#72cdf2");
const mapG = svg.append("g");
[antarctica,peninsula].forEach(r=>mapG.append("path").datum(polygon(r)).attr("d",path).attr("fill","#f1ece6"));
mapG.append("path").datum(polygon(svalbard)).attr("d",path).attr("fill","#ffffff");
mapG.selectAll(".country").data(countries).join("path").attr("class","country")
  .attr("d",d=>path(polygon(d[1])))
  .attr("fill",d=>color(d[0]))
  .attr("stroke","#706f6c").attr("stroke-width",2.6).attr("stroke-linejoin","round");
svg.append("rect").attr("x",1001).attr("y",897).attr("width",243).attr("height",39).attr("fill","#fff").attr("opacity",.85);
label(1004,929,"© Mapbox",28,{fill:"#666"});
label(1148,929,"© OSM",28,{fill:"#666"});

// ---------- colour legend ----------
label(1930,118,"Percentage Population...",34,{weight:500,spacing:1.5});
const grad = svg.append("defs").append("linearGradient").attr("id","pct");
colorStops.forEach((s,i)=>grad.append("stop").attr("offset",s/65.62).attr("stop-color",colorRange[i]));
svg.append("rect").attr("x",1943).attr("y",149).attr("width",385).attr("height",44).attr("fill","url(#pct)").attr("stroke","#cfcbb8").attr("stroke-width",2);
label(1942,235,"0.00",34,{fill:"#8a8a8a",spacing:1.8});
label(2327,235,"65.62",34,{anchor:"end",fill:"#8a8a8a",spacing:1.8});

// ---------- lines ----------
const lx = d3.scaleLinear().domain([0,29]).range([373,1236]);
const ly = d3.scaleLinear().domain([0,.973]).range([1492,1093]);
const defs = svg.append("defs");
defs.append("clipPath").attr("id","clipLine").append("rect").attr("x",0).attr("y",1080).attr("width",2400).attr("height",409);
const plot = svg.append("g").attr("clip-path","url(#clipLine)");
plot.append("line").attr("x1",226).attr("x2",226).attr("y1",1093).attr("y2",1489).attr("stroke","#f1f1f1").attr("stroke-width",2);
const lyAxis = d3.axisLeft(ly).tickValues([0,.5]).tickFormat(d3.format(".1f")).tickSize(0).tickPadding(24);
const ga = plot.append("g").attr("transform","translate(226,0)").call(lyAxis);
ga.select(".domain").remove();
ga.selectAll(".tick text").attr("font-size",37).attr("fill",tick).attr("font-family","Roboto").attr("dy",".36em");
ga.selectAll(".tick").append("line").attr("x1",-17).attr("x2",1529).attr("stroke","#f0f0f0").attr("stroke-width",2);
const area = d3.area().x((d,i)=>lx(forecastMonths[i])).y0(d=>ly(d[0])).y1(d=>ly(d[1]));
locationColors.forEach((c,i)=>{
  plot.append("path").attr("d",area(d3.zip(lowerSeries[i],upperSeries[i]))).attr("fill",c).attr("opacity",i===1||i===5?.3:.28);
});
const lineOrder = [6,0,1,5,4,2,3];
lineOrder.forEach(i=>{
  const c = locationColors[i];
  const draw=(months,vals)=>plot.append("path").attr("d",d3.line().x((d,j)=>lx(months[j])).y(d=>ly(d))(vals))
    .attr("fill","none").attr("stroke",c).attr("stroke-width",8).attr("stroke-linejoin","round").attr("stroke-linecap","square");
  draw(actualMonths,actualSeries[i]);
  draw(forecastMonths,forecastSeries[i]);
});
label(1171,1151,"Ghana",36,{anchor:"middle",fill:"#7a7a7a"});
label(1171,1203,"Actual",36,{anchor:"middle",fill:"#7a7a7a"});
label(1171,1257,"0.5139",37,{anchor:"middle",fill:"#7a7a7a",spacing:.6});
plot.append("text").attr("transform","translate(112,1091) rotate(-90)").attr("text-anchor","end")
  .attr("dominant-baseline","middle").attr("font-size",33).attr("font-weight",500).attr("fill",gray)
  .attr("letter-spacing",1.5).text("Avg. Percentage Populat..");

// legend
label(1779,1006,"Locat...",33,{weight:500,spacing:1.6});
locationLabels.forEach((s,i)=>{
  svg.append("rect").attr("x",1789).attr("y",1032+58.6*i).attr("width",40).attr("height",41).attr("fill",locationColors[i]);
  label(1844,1066+58.6*i,s,36,{fill:"#777"});
});
</script>
</body></html>
